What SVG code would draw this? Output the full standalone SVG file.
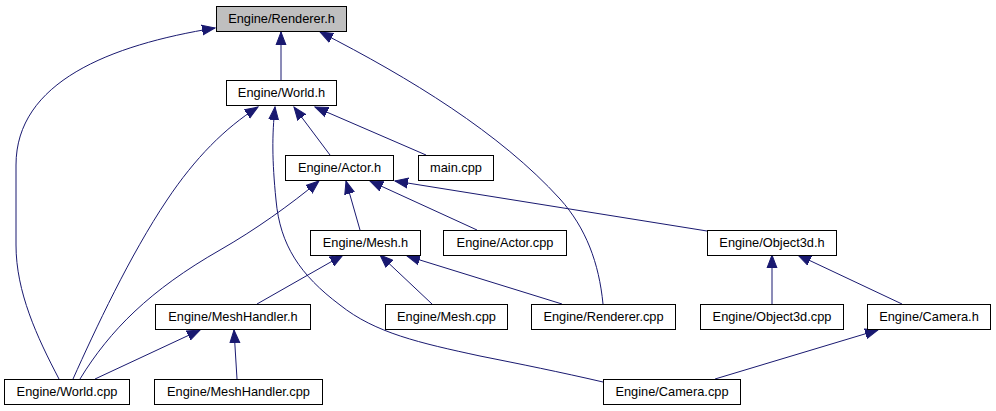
<svg xmlns="http://www.w3.org/2000/svg" width="996" height="411" viewBox="0 0 996 411">
<style>
.n rect{fill:#fff;stroke:#000;stroke-width:1}
.n text{font-family:"Liberation Sans",Arial,sans-serif;font-size:12.8px;text-anchor:middle;fill:#000}
#edges path{fill:none;stroke:#191970;stroke-width:1;marker-end:url(#ah)}
</style>
<defs>
<marker id="ah" markerUnits="userSpaceOnUse" markerWidth="14" markerHeight="12" viewBox="0 -6 14 12" refX="13" refY="0" orient="auto">
<path d="M0,-5 L13,0 L0,5 z" fill="#191970" stroke="#191970" stroke-width="1"/>
</marker>
</defs>
<rect width="996" height="411" fill="#fff"/>
<g id="edges">
<path d="M281,80 L281,32"/>
<path d="M59,379 C37,337 16,292 16,245 L16,165 C16,82 110,45 215,28"/>
<path d="M603,304 C599,263 586,228 560,199 C500,133 410,78 320,32"/>
<path d="M330,155 L294,107"/>
<path d="M426,155 L315,107"/>
<path d="M73,379 C95,330 130,255 167,200 C195,158 225,128 258,107"/>
<path d="M80,379 C110,330 150,290 220,250 C255,230 290,205 319,181"/>
<path d="M603,382 C560,372 520,364 480,356 C420,343 375,333 340,305 C300,275 280,245 276,200 C272,160 272,135 275,107"/>
<path d="M360,230 L346,181"/>
<path d="M477,230 L370,181"/>
<path d="M707,231 L395,181"/>
<path d="M257,304 L343,255"/>
<path d="M432,304 L380,255"/>
<path d="M562,304 L407,256"/>
<path d="M95,379 L200,330"/>
<path d="M237,379 L234,330"/>
<path d="M772,304 L772,255"/>
<path d="M902,304 L798,255"/>
<path d="M715,379 L878,330"/>
</g>
<g id="renderer_h" class="n"><rect x="216.5" y="6.5" width="130" height="25" style="fill:#bfbfbf"/><text x="281.5" y="23">Engine/Renderer.h</text></g>
<g id="world_h" class="n"><rect x="226.5" y="80.5" width="110" height="25"/><text x="281.5" y="97">Engine/World.h</text></g>
<g id="actor_h" class="n"><rect x="285.5" y="155.5" width="108" height="25"/><text x="339.5" y="172">Engine/Actor.h</text></g>
<g id="main_cpp" class="n"><rect x="418.5" y="155.5" width="75" height="25"/><text x="456" y="172">main.cpp</text></g>
<g id="mesh_h" class="n"><rect x="310.5" y="230.5" width="110" height="25"/><text x="365.5" y="247">Engine/Mesh.h</text></g>
<g id="actor_cpp" class="n"><rect x="443.5" y="230.5" width="123" height="25"/><text x="505" y="247">Engine/Actor.cpp</text></g>
<g id="object3d_h" class="n"><rect x="707.5" y="230.5" width="129" height="25"/><text x="772" y="247">Engine/Object3d.h</text></g>
<g id="meshhandler_h" class="n"><rect x="155.5" y="304.5" width="155" height="25"/><text x="233" y="321">Engine/MeshHandler.h</text></g>
<g id="mesh_cpp" class="n"><rect x="385.5" y="304.5" width="122" height="25"/><text x="446.5" y="321">Engine/Mesh.cpp</text></g>
<g id="renderer_cpp" class="n"><rect x="531.5" y="304.5" width="144" height="25"/><text x="603.5" y="321">Engine/Renderer.cpp</text></g>
<g id="object3d_cpp" class="n"><rect x="700.5" y="304.5" width="143" height="25"/><text x="772" y="321">Engine/Object3d.cpp</text></g>
<g id="camera_h" class="n"><rect x="867.5" y="304.5" width="123" height="25"/><text x="929" y="321">Engine/Camera.h</text></g>
<g id="world_cpp" class="n"><rect x="4.5" y="379.5" width="125" height="25"/><text x="67" y="396">Engine/World.cpp</text></g>
<g id="meshhandler_cpp" class="n"><rect x="154.5" y="379.5" width="168" height="25"/><text x="238.5" y="396">Engine/MeshHandler.cpp</text></g>
<g id="camera_cpp" class="n"><rect x="603.5" y="379.5" width="137" height="25"/><text x="672" y="396">Engine/Camera.cpp</text></g>
</svg>
